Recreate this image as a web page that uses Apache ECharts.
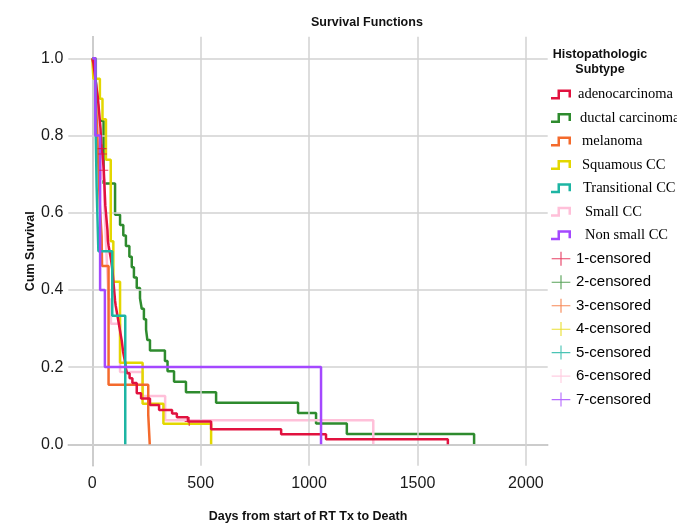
<!DOCTYPE html>
<html><head><meta charset="utf-8">
<script src="https://cdn.jsdelivr.net/npm/echarts@6/dist/echarts.min.js"></script>
<style>html,body{margin:0;padding:0;background:#fff}#c{width:677px;height:523px}</style>
</head><body><div id="c"></div>
<script>
// ---------- data ----------
const subtypeNames = ['adenocarcinoma','ductal carcinoma','melanoma','Squamous CC','Transitional CC','Small CC','Non small CC'];
const censorNames = ['1-censored','2-censored','3-censored','4-censored','5-censored','6-censored','7-censored'];
const xTicks = [0, 500, 1000, 1500, 2000];
const yTicks = [0.0, 0.2, 0.4, 0.6, 0.8, 1.0];

const adenoDays = [0,5,8,11,14,17,20,23,26,28,30,32,34,36,38,39,40,41,42,47,49,51,53,54,55,56,57,58,59,60,62,64,66,68,70,71,72,75,79,83,87,90,93,95,97,99,101,103,105,108,112,116,120,124,128,132,136,142,146,151,155,160,172,185,205,225,266,308,368,390,441,548,871,1078,1640];
const adenoSurv = [1.000,0.987,0.974,0.961,0.948,0.935,0.922,0.909,0.896,0.883,0.870,0.857,0.844,0.831,0.818,0.805,0.792,0.779,0.766,0.752,0.738,0.724,0.710,0.697,0.684,0.671,0.658,0.645,0.632,0.619,0.606,0.593,0.580,0.567,0.554,0.541,0.528,0.515,0.502,0.489,0.476,0.463,0.450,0.437,0.424,0.411,0.398,0.385,0.372,0.359,0.346,0.333,0.320,0.307,0.294,0.281,0.268,0.240,0.228,0.214,0.197,0.184,0.171,0.159,0.132,0.119,0.102,0.089,0.080,0.070,0.059,0.039,0.026,0.013,0.000];
const adenoCensorDays = [45, 47, 53, 447];
const adenoCensorSurv = [0.766, 0.752, 0.710, 0.059];

const ductalDays = [0,10,15,20,24,28,31,52,105,128,143,155,171,182,192,205,220,228,238,248,254,266,335,347,377,432,571,949,1032,1174,1761];
const ductalSurv = [1.000,0.973,0.946,0.919,0.892,0.865,0.838,0.676,0.595,0.568,0.541,0.514,0.486,0.459,0.432,0.405,0.378,0.351,0.324,0.297,0.270,0.243,0.216,0.189,0.162,0.135,0.108,0.081,0.054,0.027,0.000];

const melanomaDays = [0,15,20,25,30,35,43,45,75,258,265];
const melanomaSurv = [1.000,0.923,0.846,0.769,0.692,0.615,0.538,0.462,0.154,0.077,0.000];

const squamousDays = [0,5,35,47,63,85,97,128,232,328,548];
const squamousSurv = [1.000,0.947,0.895,0.842,0.737,0.526,0.421,0.211,0.105,0.053,0.000];

const transitionalDays = [0,15,20,28,92,152];
const transitionalSurv = [1.000,0.833,0.667,0.500,0.333,0.000];

const smallDays = [0,17,25,28,31,45,55,60,65,70,75,86,128,232,336,1296];
const smallSurv = [1.000,0.9375,0.875,0.8125,0.75,0.6875,0.625,0.5625,0.5,0.4375,0.375,0.3125,0.1875,0.125,0.0625,0.000];

const nonSmallDays = [0,14,36,58,1055];
const nonSmallSurv = [1.0,0.8,0.4,0.2,0.0];

// ---------- styling ----------
const colors = ['#e1123f','#2e8b2e','#f46a2c','#e3d700','#1db5a3','#ffc0d9','#a448ff'];
const SANS = '"Liberation Sans", Arial, sans-serif';
const SERIF = '"Liberation Serif", "Times New Roman", serif';
const stepIcon = 'path://M0,7.5L6.5,7.5L6.5,0L20,0L20,8L17.5,8L17.5,2.5L9,2.5L9,10L0,10Z';
const plusIcon = 'path://M9.4,0H10.6V7H20V8.2H10.6V15H9.4V8.2H0V7H9.4Z';
const plusSym = 'path://M4.4,0H5.6V4.4H10V5.6H5.6V10H4.4V5.6H0V4.4H4.4Z';

const curves = [
  [adenoDays, adenoSurv], [ductalDays, ductalSurv], [melanomaDays, melanomaSurv],
  [squamousDays, squamousSurv], [transitionalDays, transitionalSurv],
  [smallDays, smallSurv], [nonSmallDays, nonSmallSurv]
];
const censors = [
  [adenoCensorDays, adenoCensorSurv], [[],[]], [[],[]], [[],[]], [[],[]], [[],[]], [[],[]]
];
const drawOrder = [1, 5, 3, 2, 0, 4, 6];

const zip = (a, b) => a.map((v, i) => [v, b[i]]);

const series = [{
  type: 'line', name: '_grid', data: [], silent: true, z: 1,
  markLine: {
    silent: true, symbol: ['none','none'], label: {show: false}, animation: false,
    lineStyle: {color: '#d2d2d2', width: 1.5, type: 'solid'},
    emphasis: {disabled: true},
    data: xTicks.map(v => ({xAxis: v})).concat(yTicks.map(v => ({yAxis: v})))
  }
}];
drawOrder.forEach((i, k) => {
  series.push({
    type: 'line', name: subtypeNames[i], step: 'end', showSymbol: false, symbol: 'none',
    data: zip(curves[i][0], curves[i][1]), z: 3 + k,
    lineStyle: {color: colors[i], width: 2.5}, itemStyle: {color: colors[i]},
    emphasis: {disabled: true}
  });
});
for (let i = 0; i < 7; i++) {
  series.push({
    type: 'scatter', name: censorNames[i], symbol: plusSym, symbolSize: 9, z: 20,
    data: zip(censors[i][0], censors[i][1]), itemStyle: {color: colors[i]},
    emphasis: {disabled: true}
  });
}

const textPad = [2, 4, 6, 6, 7, 9, 9];
const legendData = subtypeNames.map((n, i) => ({
  name: n, icon: stepIcon, itemStyle: {color: colors[i], borderWidth: 0},
  textStyle: {color: '#000', fontFamily: SERIF, fontSize: 14.5, padding: [0, 0, 0, textPad[i]]}
})).concat(censorNames.map((n, i) => ({
  name: n, icon: plusIcon, itemStyle: {color: colors[i], borderWidth: 0},
  textStyle: {color: '#000', fontFamily: SANS, fontSize: 15}
})));

const isTick = (arr, v) => arr.some(t => Math.abs(t - v) < 1e-6);

const option = {
  backgroundColor: '#fff',
  animation: false,
  title: {
    text: 'Survival Functions', left: 311, top: 16, padding: 0,
    textStyle: {fontFamily: SANS, fontSize: 12.5, fontWeight: 'bold', color: '#111'}
  },
  graphic: [{
    type: 'text', x: 600, y: 62, silent: true,
    style: {text: 'Histopathologic\nSubtype', fontFamily: SANS, fontSize: 12.5, fontWeight: 'bold',
      fill: '#111', align: 'center', verticalAlign: 'middle', lineHeight: 15}
  }],
  legend: {
    orient: 'vertical', left: 551, top: 87, padding: 0,
    itemWidth: 20, itemHeight: 14, itemGap: 8.46, selectedMode: false,
    textStyle: {color: '#000'},
    data: legendData
  },
  grid: {left: 68.3, right: 129.3, top: 36.7, bottom: 57.3, containLabel: false, outerBoundsMode: 'none'},
  xAxis: {
    type: 'value', min: -110.7, max: 2100.5,
    name: 'Days from start of RT Tx to Death', nameLocation: 'middle', nameGap: 44, nameMoveOverlap: false,
    nameTextStyle: {fontFamily: SANS, fontSize: 12.5, fontWeight: 'bold', color: '#111'},
    axisLine: {show: true, lineStyle: {color: '#a8a8a8', width: 1.5}},
    axisTick: {show: false}, splitLine: {show: false},
    axisLabel: {margin: 10, fontFamily: SANS, fontSize: 16, color: '#1a1a1a',
      formatter: v => isTick(xTicks, v) ? String(Math.round(v)) : ''}
  },
  yAxis: {
    type: 'value', min: -0.0554, max: 1.056,
    name: 'Cum Survival', nameLocation: 'middle', nameGap: 31, nameMoveOverlap: false,
    nameTextStyle: {fontFamily: SANS, fontSize: 12.5, fontWeight: 'bold', color: '#111'},
    axisLine: {show: true, lineStyle: {color: '#a8a8a8', width: 1.5}},
    axisTick: {show: false}, splitLine: {show: false},
    axisLabel: {margin: 5, fontFamily: SANS, fontSize: 16, color: '#1a1a1a',
      formatter: v => isTick(yTicks, v) ? v.toFixed(1) : ''}
  },
  series: series
};
const chart = echarts.init(document.getElementById('c'), null, {renderer: 'canvas'});
chart.setOption(option);
</script>
</body></html>
